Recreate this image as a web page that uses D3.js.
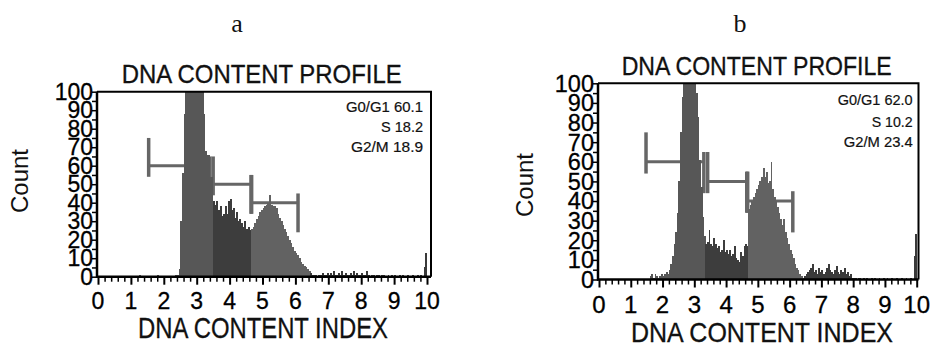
<!DOCTYPE html>
<html><head><meta charset="utf-8">
<script src="https://cdn.jsdelivr.net/npm/d3@7/dist/d3.min.js"></script>
<style>
html,body{margin:0;padding:0;background:#fff;}
svg{display:block;font-family:"Liberation Sans",Arial,sans-serif;}
</style></head>
<body>
<svg id="chart" width="931" height="347"></svg>
<script>
// ---------------- DATA ----------------
const xTicks = [0,1,2,3,4,5,6,7,8,9,10];
const yTicks = [0,10,20,30,40,50,60,70,80,90,100];
const binWidth = 0.05;   // DNA content index units per histogram bin (0..10)

// panel a counts, one per bin starting at 0.00
const countsA = [
  0,0,0,0,0,0,0,0,0,0,0,0,0,0,0,0,0,0,0,0,
  0,0,0,0,0,1,0,0,0,0,0,0,0,0,0,0,1,0,0,0,
  0,0,0,0,0,0,0,1,1,4,30,56,88,100,100,100,100,100,100,100,
  100,100,100,100,88,68,66,66,54,54,41,39,41,36,38,33,34,38,34,41,
  42,36,37,32,35,30,31,29,27,30,26,27,25,26,27,29,31,33,35,36,
  37,38,39,40,44,39,38,38,37,34,32,30,28,26,24,22,20,18,16,14,
  13,12,10,8,7,6,5,4,3,2,1,1,1,0,1,1,2,1,1,2,
  1,2,1,3,1,1,2,1,3,1,2,1,1,2,1,3,1,2,1,1,
  2,1,1,3,1,0,1,1,0,1,1,0,1,1,0,0,1,0,1,0,
  1,0,0,1,0,1,0,0,1,0,0,1,0,0,1,0,1,0,5,13
];
// panel b counts
const countsB = [
  0,0,0,0,0,0,0,0,0,0,0,0,0,0,0,0,0,0,0,0,
  0,0,0,0,0,0,0,0,0,0,0,0,2,3,1,3,2,1,2,3,
  2,3,4,3,5,8,12,18,24,34,50,75,93,100,100,100,100,100,100,100,
  100,95,83,61,47,32,22,18,19,25,18,17,21,18,16,17,14,15,20,14,
  15,13,15,12,13,17,11,10,9,14,12,17,18,17,36,38,40,42,44,46,
  48,50,52,57,52,55,49,50,60,46,42,40,37,34,31,28,31,24,21,18,
  15,13,11,8,6,5,3,2,1,2,3,4,5,6,8,4,5,3,6,4,
  5,3,4,6,8,5,4,3,5,7,4,3,5,4,6,3,4,2,3,1,
  1,1,0,1,1,0,1,0,1,0,0,1,0,1,0,0,1,0,0,1,
  0,1,0,0,1,0,0,1,0,0,1,0,0,1,0,0,1,0,12,23
];

// phase boundaries (S start, G2/M start) and tail start
const phasesA = [3.50, 4.65];
const phasesB = [3.35, 4.70];
const tailStart = 6.45;

// analysis gates: start, end, level
const gatesA = [
  {x0:1.54, x1:3.40, level:60},
  {x0:3.50, x1:4.65, level:50},
  {x0:4.67, x1:6.08, level:40}
];
const gatesB = [
  {x0:1.48, x1:3.30, level:60},
  {x0:3.42, x1:4.65, level:50},
  {x0:4.68, x1:6.10, level:40}
];

const resultsA = ["G0/G1 60.1", "S 18.2", "G2/M 18.9"];
const resultsB = ["G0/G1 62.0", "S 10.2", "G2/M 23.4"];

const panelLetters = ["a", "b"];
const titleText = "DNA CONTENT PROFILE";
const xLabelText = "DNA CONTENT INDEX";
const yLabelText = "Count";

// ---------------- DRAW ----------------
const svg = d3.select("#chart");

const layouts = [
  {x0:98, x10:427, yTop:91.7, yBot:276.7, boxL:97, boxR:431,
   letterX:237, titleX:261.7, titleY:83, titleW:280, titleFs:25,
   xlabX:263, xlabY:338, xlabW:250, xlabFs:30,
   ylabX:28, ylabY:181, ylabFs:24,
   tickFs:23, tickY:308.5, yTickFs:23, resX:423, resY:[111.7,131.7,151.7], resW:[77,42,72], resFs:14.5},
  {x0:599, x10:916.7, yTop:83.3, yBot:279.5, boxL:598, boxR:918.5,
   letterX:740, titleX:756.7, titleY:75, titleW:270, titleFs:25,
   xlabX:762, xlabY:342, xlabW:262, xlabFs:27.5,
   ylabX:533, ylabY:185, ylabFs:24,
   tickFs:24, tickY:313, yTickFs:23.5, resX:912.7, resY:[105,126.7,146.7], resW:[75,41,69], resFs:14.5}
];

const panels = [
  {counts:countsA, phases:phasesA, gates:gatesA, results:resultsA},
  {counts:countsB, phases:phasesB, gates:gatesB, results:resultsB}
];

panels.forEach((p, k) => {
  const L = layouts[k];
  const g = svg.append("g");
  const x = d3.scaleLinear().domain([0,10]).range([L.x0, L.x10]);
  const y = d3.scaleLinear().domain([0,100]).range([L.yBot, L.yTop]).clamp(true);

  // panel letter
  g.append("text").attr("x", L.letterX).attr("y", 32)
    .attr("text-anchor","middle").attr("font-family","'Liberation Serif','Times New Roman',serif")
    .attr("font-size", 26).attr("fill","#111").text(panelLetters[k]);

  // title
  g.append("text").attr("x", L.titleX).attr("y", L.titleY)
    .attr("text-anchor","middle").attr("font-size", L.titleFs)
    .attr("textLength", L.titleW).attr("lengthAdjust","spacingAndGlyphs")
    .attr("fill","#111").attr("stroke","#111").attr("stroke-width",0.3).text(titleText);

  // gates (behind histogram)
  const gateColor = "#666";
  p.gates.forEach(gt => {
    g.append("line").attr("x1", x(gt.x0)).attr("x2", x(gt.x1))
      .attr("y1", y(gt.level)).attr("y2", y(gt.level))
      .attr("stroke", gateColor).attr("stroke-width", 3);
    g.append("line").attr("x1", x(gt.x0)).attr("x2", x(gt.x0))
      .attr("y1", y(gt.level + 15)).attr("y2", y(gt.level - 6))
      .attr("stroke", gateColor).attr("stroke-width", 3.5);
    g.append("line").attr("x1", x(gt.x1)).attr("x2", x(gt.x1))
      .attr("y1", y(gt.level + 5)).attr("y2", y(gt.level - 16))
      .attr("stroke", gateColor).attr("stroke-width", 3.5);
  });

  // histogram bars
  const bins = p.counts.map((c, i) => ({x: i * binWidth, c}));
  const fillFor = d => {
    const mid = d.x + binWidth / 2;
    if (mid < p.phases[0]) return "#575757";
    if (mid < p.phases[1]) return "#3d3d3d";
    if (mid < tailStart) return "#626262";
    return "#3a3a3a";
  };
  g.append("g").attr("shape-rendering","crispEdges")
    .selectAll("rect").data(bins.filter(d => d.c > 0)).join("rect")
    .attr("x", d => x(d.x))
    .attr("width", d => x(d.x + binWidth) - x(d.x) + 0.3)
    .attr("y", d => y(d.c))
    .attr("height", d => L.yBot - y(d.c))
    .attr("fill", fillFor);

  // box: top and right borders
  g.append("path")
    .attr("d", `M${L.boxL},${L.yTop}H${L.boxR}V${L.yBot}`)
    .attr("fill","none").attr("stroke","#000").attr("stroke-width",2);

  // y axis
  const yAxis = g.append("g").attr("transform", `translate(${L.boxL},0)`);
  yAxis.call(d3.axisLeft(y).tickValues(d3.range(0,101,5)).tickSize(5).tickFormat(""))
    .call(s => s.select(".domain").remove());
  yAxis.selectAll(".tick line").attr("stroke","#000").attr("stroke-width",1.5);
  yAxis.append("line").attr("x1",0).attr("x2",0).attr("y1",L.yTop).attr("y2",L.yBot+1)
    .attr("stroke","#000").attr("stroke-width",2.5);
  yAxis.selectAll(".ylab").data(yTicks).join("text").attr("class","ylab")
    .attr("x", -4).attr("y", d => y(d)).attr("dy","0.36em")
    .attr("text-anchor","end").attr("font-size", L.yTickFs).attr("fill","#000")
    .attr("stroke","#000").attr("stroke-width",0.3)
    .text(d => d);

  // x axis
  const xAxis = g.append("g").attr("transform", `translate(0,${L.yBot})`);
  xAxis.call(d3.axisBottom(x).tickValues(d3.range(0,10.01,0.2)).tickSize(5).tickFormat(""))
    .call(s => s.select(".domain").remove());
  xAxis.selectAll(".tick line").attr("stroke","#000").attr("stroke-width",1.5);
  xAxis.selectAll(".tick").filter(d => Math.abs(d - Math.round(d)) < 1e-6)
    .select("line").attr("y2", 8).attr("stroke-width",2);
  xAxis.append("line").attr("x1",L.boxL-1).attr("x2",L.boxR).attr("y1",0).attr("y2",0)
    .attr("stroke","#000").attr("stroke-width",2.5);
  g.selectAll(".xlab").data(xTicks).join("text").attr("class","xlab")
    .attr("x", d => x(d)).attr("y", L.tickY)
    .attr("text-anchor","middle").attr("font-size", L.tickFs).attr("fill","#000")
    .attr("stroke","#000").attr("stroke-width",0.3)
    .text(d => d);

  // axis titles
  g.append("text").attr("x", L.xlabX).attr("y", L.xlabY)
    .attr("text-anchor","middle").attr("font-size", L.xlabFs)
    .attr("textLength", L.xlabW).attr("lengthAdjust","spacingAndGlyphs")
    .attr("fill","#111").attr("stroke","#111").attr("stroke-width",0.3).text(xLabelText);
  g.append("text").attr("transform", `translate(${L.ylabX},${L.ylabY}) rotate(-90)`)
    .attr("text-anchor","middle").attr("font-size", L.ylabFs)
    .attr("fill","#111").text(yLabelText);

  // results text
  p.results.forEach((t, i) => {
    g.append("text").attr("x", L.resX).attr("y", L.resY[i])
      .attr("text-anchor","end").attr("font-size", L.resFs)
      .attr("textLength", L.resW[i]).attr("lengthAdjust","spacingAndGlyphs")
      .attr("fill","#111").attr("stroke","#111").attr("stroke-width",0.2).text(t);
  });
});
</script>
</body></html>
